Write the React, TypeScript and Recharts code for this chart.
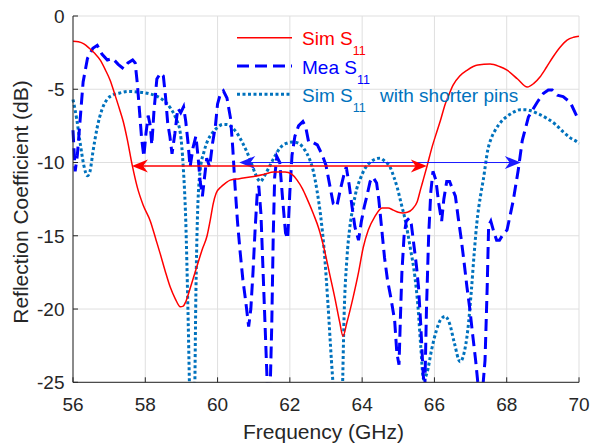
import React from 'react';
import { LineChart, Line, XAxis, YAxis, CartesianGrid, ReferenceLine, Legend } from 'recharts';

// Sim S11 (red, solid)
const simFreq = [
  56.0, 56.15, 56.3, 56.45, 56.6, 56.75, 56.9, 57.03, 57.15, 57.28, 57.39, 57.5, 57.64, 57.78, 57.94,
  58.14, 58.3, 58.41, 58.55, 58.69, 58.83, 58.97, 59.05, 59.12, 59.24, 59.34, 59.44, 59.58, 59.71, 59.8,
  59.88, 59.96, 60.1, 60.22, 60.35, 60.6, 61.0, 61.3, 61.55, 61.87, 62.05, 62.2, 62.35, 62.48, 62.65,
  62.8, 62.95, 63.1, 63.25, 63.38, 63.47, 63.58, 63.75, 63.9, 64.03, 64.17, 64.35, 64.55, 64.72, 64.86,
  65.0, 65.12, 65.25, 65.4, 65.52, 65.62, 65.7, 65.8, 65.94, 66.08, 66.17, 66.3, 66.38, 66.52, 66.7,
  66.91, 67.2, 67.54, 67.8, 68.01, 68.3, 68.57, 68.75, 68.92, 69.1, 69.28, 69.47, 69.67, 69.85, 70.0,
];
const simDb = [
  -1.72, -1.76, -1.9, -2.2, -2.55, -3.0, -3.7, -4.4, -5.3, -6.3, -7.2, -8.4, -10.2, -11.7, -12.9,
  -14.0, -15.3, -16.2, -17.4, -18.5, -19.3, -19.85, -19.8, -19.5, -18.6, -17.8, -17.0, -15.9, -15.0, -13.9,
  -12.8, -12.1, -11.65, -11.4, -11.2, -11.1, -10.95, -10.8, -10.65, -10.65, -10.8, -11.2, -11.8, -12.5, -13.5,
  -14.5, -15.9, -17.6, -19.3, -20.9, -21.85, -20.9, -19.2, -17.5, -15.8, -14.6, -13.7, -13.1, -13.1, -13.25,
  -13.4, -13.45, -13.4, -13.15, -12.7, -11.8, -11.1, -10.2, -8.9, -7.8, -7.1, -6.0, -5.5, -4.7, -4.1,
  -3.69, -3.35, -3.28, -3.45, -3.7, -4.3, -4.85, -4.6, -4.16, -3.5, -2.8, -2.15, -1.64, -1.45, -1.38,
];

// Mea S11 (blue, dashed)
const meaFreq = [
  56.0, 56.06, 56.12, 56.2, 56.28, 56.4, 56.55, 56.67, 56.8, 56.95, 57.1, 57.25, 57.4, 57.52, 57.65,
  57.72, 57.78, 57.84, 57.9, 57.96, 58.02, 58.08, 58.14, 58.18, 58.24, 58.32, 58.42, 58.5, 58.56, 58.62,
  58.68, 58.74, 58.82, 58.9, 58.98, 59.06, 59.12, 59.18, 59.24, 59.32, 59.4, 59.46, 59.52, 59.58, 59.64,
  59.7, 59.78, 59.86, 59.94, 60.0, 60.08, 60.16, 60.26, 60.36, 60.42, 60.48, 60.55, 60.62, 60.7, 60.78,
  60.86, 60.92, 60.98, 61.04, 61.1, 61.14, 61.2, 61.26, 61.32, 61.38, 61.45, 61.5, 61.54, 61.58, 61.64,
  61.72, 61.8, 61.88, 61.94, 62.0, 62.06, 62.14, 62.24, 62.36, 62.44, 62.52, 62.62, 62.76, 62.9, 63.0,
  63.1, 63.2, 63.3, 63.4, 63.5, 63.56, 63.64, 63.72, 63.8, 63.9, 63.98, 64.06, 64.14, 64.22, 64.3,
  64.4, 64.46, 64.54, 64.62, 64.7, 64.8, 64.9, 64.96, 65.02, 65.06, 65.1, 65.16, 65.22, 65.3, 65.36,
  65.42, 65.5, 65.56, 65.62, 65.68, 65.73, 65.78, 65.84, 65.9, 65.96, 66.04, 66.12, 66.2, 66.26, 66.34,
  66.42, 66.5, 66.58, 66.66, 66.74, 66.82, 66.9, 66.98, 67.06, 67.14, 67.22, 67.3, 67.4, 67.46, 67.5,
  67.56, 67.64, 67.72, 67.8, 67.9, 68.01, 68.18, 68.32, 68.43, 68.6, 68.84, 69.01, 69.15, 69.26, 69.4,
  69.56, 69.76, 69.95, 70.0,
];
const meaDb = [
  -7.8, -10.6, -9.5, -7.0, -4.5, -2.9, -2.2, -2.0, -2.6, -3.0, -2.9, -3.3, -3.6, -3.2, -3.0,
  -3.2, -4.6, -6.5, -8.4, -9.6, -8.0, -6.8, -7.5, -8.8, -6.5, -4.3, -3.9, -4.1, -5.5, -7.3,
  -8.2, -9.4, -8.0, -6.3, -6.6, -6.2, -7.2, -8.6, -10.3, -9.0, -8.2, -9.6, -11.3, -12.3, -11.0,
  -9.7, -10.3, -8.7, -7.5, -6.0, -5.3, -5.1, -5.6, -7.0, -9.0, -11.5, -14.0, -16.0, -18.0, -19.5,
  -21.2, -20.0, -17.5, -14.5, -12.0, -11.6, -13.5, -17.5, -21.5, -25.5, -26.0, -21.0, -15.0, -11.0, -9.6,
  -10.0, -12.5, -14.8, -15.2, -12.0, -9.5, -8.2, -7.5, -7.2, -7.6, -8.6, -8.6, -8.8, -9.5, -10.2,
  -11.5, -12.8, -13.0, -11.8, -10.8, -10.3, -11.5, -13.0, -14.4, -15.3, -14.0, -13.0, -12.2, -11.3, -11.0,
  -11.4, -12.5, -14.5, -16.5, -18.0, -19.3, -20.8, -23.0, -23.8, -20.5, -17.5, -15.0, -14.0, -13.8, -14.2,
  -15.4, -17.0, -18.5, -21.0, -24.0, -26.0, -20.0, -15.0, -12.0, -10.6, -11.2, -12.8, -14.0, -12.5, -11.3,
  -11.3, -11.8, -12.3, -13.8, -15.2, -16.8, -18.5, -20.0, -21.8, -23.5, -25.5, -26.5, -23.5, -18.5, -14.3,
  -14.0, -14.7, -15.3, -15.3, -14.9, -14.6, -12.6, -10.5, -8.5, -6.9, -5.9, -5.3, -5.05, -5.05, -5.4,
  -5.5, -5.9, -6.9, -7.0,
];

// Sim S11 with shorter pins (dotted)
const pinFreq = [
  56.0, 56.1, 56.2, 56.3, 56.4, 56.47, 56.55, 56.67, 56.8, 56.94, 57.1, 57.3, 57.55, 57.86, 58.1,
  58.3, 58.5, 58.7, 58.85, 58.97, 59.05, 59.12, 59.18, 59.24, 59.3, 59.36, 59.4, 59.44, 59.52, 59.62,
  59.71, 59.85, 60.0, 60.15, 60.26, 60.4, 60.54, 60.7, 60.9, 61.05, 61.18, 61.3, 61.45, 61.6, 61.73,
  61.9, 62.1, 62.25, 62.4, 62.55, 62.65, 62.75, 62.85, 62.95, 63.05, 63.15, 63.25, 63.35, 63.45, 63.5,
  63.58, 63.65, 63.75, 63.85, 63.95, 64.08, 64.22, 64.38, 64.5, 64.62, 64.77, 64.88, 64.97, 65.08, 65.19,
  65.33, 65.46, 65.55, 65.62, 65.7, 65.8, 65.92, 66.05, 66.18, 66.3, 66.42, 66.55, 66.71, 66.82, 66.92,
  67.02, 67.1, 67.17, 67.28, 67.35, 67.48, 67.58, 67.68, 67.85, 68.01, 68.2, 68.37, 68.52, 68.65, 68.85,
  69.12, 69.35, 69.56, 69.75, 69.95, 70.0,
];
const pinDb = [
  -5.7, -7.0, -8.7, -10.2, -10.9, -10.6, -9.3, -7.6, -6.4, -5.7, -5.4, -5.25, -5.15, -5.2, -5.3,
  -5.45, -5.75, -6.3, -7.0, -8.0, -10.3, -14.0, -20.0, -27.0, -30.0, -27.0, -19.0, -14.0, -10.5, -9.3,
  -8.6, -8.0, -7.6, -7.4, -7.4, -7.6, -8.0, -8.7, -9.8, -10.8, -11.3, -10.9, -10.2, -9.5, -9.0,
  -8.7, -8.6, -8.7, -9.1, -9.8, -10.6, -11.9, -13.6, -16.0, -19.5, -23.5, -27.0, -30.0, -26.0, -20.5,
  -16.5, -14.6, -13.0, -11.8, -11.1, -10.4, -10.0, -9.75, -9.7, -9.9, -10.3, -11.0, -11.7, -12.8, -13.9,
  -15.8, -17.8, -20.0, -22.5, -24.8, -24.3, -22.8, -21.5, -20.7, -20.5, -21.0, -22.3, -23.6, -23.0, -21.5,
  -18.8, -16.2, -14.2, -12.2, -11.2, -9.1, -8.3, -7.8, -7.2, -6.85, -6.55, -6.4, -6.4, -6.45, -6.65,
  -7.0, -7.4, -7.9, -8.3, -8.6, -8.7,
];

const xTicks = [56, 58, 60, 62, 64, 66, 68, 70];
const yTicks = [-25, -20, -15, -10, -5, 0];

// bandwidth arrows: [start GHz, end GHz, level dB]
const simBand = [57.63, 65.79, -10.24];
const meaBand = [60.6, 68.39, -10.0];

const legendItems = [
  { label: 'Sim S', rest: '', color: '#FF0000', dash: undefined, width: 1.5 },
  { label: 'Mea S', rest: '', color: '#0000FF', dash: '12 6', width: 3 },
  { label: 'Sim S', rest: 'with shorter pins', color: '#0072BD', dash: '3 2.5', width: 3 },
];

const toRows = (fs: number[], vs: number[]) => fs.map((f, i) => ({ f, db: vs[i] }));

const axisColor = '#262626';
const tickStyle = { fill: axisColor, fontSize: 19, fontFamily: 'Liberation Sans, Arial, sans-serif' };

const arrowShape = (color: string, width: number) => (props: any) => {
  const { x1, y1, x2, y2 } = props;
  const L = 16;
  const W = 13;
  const left = Math.min(x1, x2);
  const right = Math.max(x1, x2);
  const y = (y1 + y2) / 2;
  const head = (tip: number, dir: number) =>
    `${tip},${y} ${tip + dir * L},${y - W / 2} ${tip + dir * L * 0.7},${y} ${tip + dir * L},${y + W / 2}`;
  return (
    <g>
      <line x1={left + 4} y1={y} x2={right - 4} y2={y} stroke={color} strokeWidth={width} />
      <polygon points={head(left, 1)} fill={color} />
      <polygon points={head(right, -1)} fill={color} />
    </g>
  );
};

function LegendBox() {
  const rows = [37.7, 66, 94.3];
  return (
    <svg width={590} height={130} style={{ position: 'absolute', left: 0, top: 0 }}>
      {legendItems.map((it, i) => {
        const y = rows[i];
        return (
          <g key={i}>
            <line x1={237} x2={292} y1={y} y2={y} stroke={it.color} strokeWidth={it.width} strokeDasharray={it.dash} />
            <text x={302} y={y + 7.5} fill={it.color} fontSize={19} fontFamily="Liberation Sans, Arial, sans-serif">
              {it.label}
              <tspan fontSize={12.5} dy={10}>11</tspan>
            </text>
            {it.rest && (
              <text x={380} y={y + 7.5} fill={it.color} fontSize={19} fontFamily="Liberation Sans, Arial, sans-serif">
                {it.rest}
              </text>
            )}
          </g>
        );
      })}
    </svg>
  );
}

export default function App() {
  return (
    <div style={{ position: 'absolute', left: 0, top: 0, width: 590, height: 444, background: '#fff' }}>
      <LineChart width={590} height={444} margin={{ top: 16, right: 11, bottom: 31.7, left: 0 }}>
        <CartesianGrid stroke="#dfdfdf" strokeWidth={1} />
        <XAxis
          type="number"
          dataKey="f"
          domain={[56, 70]}
          ticks={xTicks}
          height={30}
          stroke={axisColor}
          tickSize={-5}
          tickMargin={20}
          tick={tickStyle}
          label={() => (
            <text x={323.5} y={438.5} textAnchor="middle" fill={axisColor} fontSize={21} fontFamily="Liberation Sans, Arial, sans-serif">
              Frequency (GHz)
            </text>
          )}
        />
        <XAxis xAxisId="top" orientation="top" type="number" domain={[56, 70]} ticks={xTicks} height={0} stroke={axisColor} tickSize={-5} tick={false} />
        <YAxis
          type="number"
          domain={[-25, 0]}
          ticks={yTicks}
          allowDataOverflow
          width={73}
          stroke={axisColor}
          tickSize={-5}
          tickMargin={13.5}
          tick={tickStyle}
          label={() => (
            <text x={27.5} y={202} transform="rotate(-90 27.5 202)" textAnchor="middle" fill={axisColor} fontSize={21} fontFamily="Liberation Sans, Arial, sans-serif">
              Reflection Coefficient (dB)
            </text>
          )}
        />
        <YAxis yAxisId="right" orientation="right" type="number" domain={[-25, 0]} ticks={yTicks} width={0} stroke={axisColor} tickSize={-5} tick={false} />
        <Line data={toRows(pinFreq, pinDb)} dataKey="db" type="monotone" stroke="#0072BD" strokeWidth={3} strokeDasharray="3 2.5" dot={false} activeDot={false} isAnimationActive={false} />
        <Line data={toRows(meaFreq, meaDb)} dataKey="db" type="linear" stroke="#0000FF" strokeWidth={3} strokeDasharray="12 6" dot={false} activeDot={false} isAnimationActive={false} />
        <Line data={toRows(simFreq, simDb)} dataKey="db" type="monotone" stroke="#FF0000" strokeWidth={1.5} dot={false} activeDot={false} isAnimationActive={false} />
        <ReferenceLine segment={[{ x: meaBand[0], y: meaBand[2] }, { x: meaBand[1], y: meaBand[2] }]} shape={arrowShape('#1a1aff', 1)} />
        <ReferenceLine segment={[{ x: simBand[0], y: simBand[2] }, { x: simBand[1], y: simBand[2] }]} shape={arrowShape('#FF0000', 1.5)} />
        <Legend layout="vertical" align="center" verticalAlign="middle" wrapperStyle={{ left: 0, top: 0, width: 590, height: 130 }} content={() => <LegendBox />} />
      </LineChart>
    </div>
  );
}
